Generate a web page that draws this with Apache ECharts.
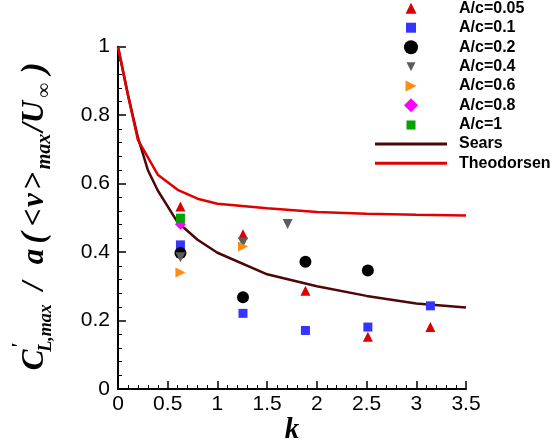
<!DOCTYPE html>
<html>
<head>
<meta charset="utf-8">
<script src="https://cdn.jsdelivr.net/npm/echarts@6/dist/echarts.min.js"></script>
<style>
  html, body { margin: 0; padding: 0; background: #fff; }
  #chart { width: 552px; height: 448px; }
</style>
</head>
<body>
<div id="chart"></div>
<script>
// Reduced frequency k and normalised lift amplitude for each amplitude ratio A/c
const kAc005 = [0.628, 1.257, 1.885, 2.513, 3.142];
const vAc005 = [0.533, 0.452, 0.287, 0.153, 0.181];
const kAc01 = [0.628, 1.257, 1.885, 2.513, 3.142];
const vAc01 = [0.421, 0.221, 0.171, 0.181, 0.243];
const kAc02 = [0.628, 1.257, 1.885, 2.513];
const vAc02 = [0.397, 0.268, 0.372, 0.346];
const kAc04 = [0.628, 1.257, 1.706];
const vAc04 = [0.385, 0.428, 0.482];
const kAc06 = [0.628, 1.257];
const vAc06 = [0.340, 0.416];
const kAc08 = [0.628];
const vAc08 = [0.481];
const kAc1 = [0.628];
const vAc1 = [0.499];

// Analytical references
const kSears = [0, 0.1, 0.2, 0.3, 0.4, 0.6, 0.8, 1.0, 1.5, 2.0, 2.5, 3.0, 3.5];
const vSears = [1.0, 0.86, 0.735, 0.64, 0.58, 0.487, 0.436, 0.398, 0.335, 0.300, 0.272, 0.250, 0.238];
const kTheo = [0, 0.1, 0.2, 0.4, 0.6, 0.8, 1.0, 1.5, 2.0, 2.5, 3.0, 3.5];
const vTheo = [1.0, 0.858, 0.728, 0.626, 0.582, 0.556, 0.541, 0.528, 0.517, 0.512, 0.509, 0.507];

// Legend names and axis tick labels
const seriesNames = ['A/c=0.05', 'A/c=0.1', 'A/c=0.2', 'A/c=0.4', 'A/c=0.6', 'A/c=0.8', 'A/c=1', 'Sears', 'Theodorsen'];
const xTickLabels = ['0', '0.5', '1', '1.5', '2', '2.5', '3', '3.5'];
const yTickLabels = ['0', '0.2', '0.4', '0.6', '0.8', '1'];

const zip = (ks, vs) => ks.map((k, i) => [k, vs[i]]);

// icon overrides the legend shape for the rotated triangles
const markerStyles = [
  { symbol: 'triangle', size: 10, rotate: 0, color: '#dc0000', legendSize: 11 },
  { symbol: 'rect', size: 9, rotate: 0, color: '#3535ff', legendSize: 10 },
  { symbol: 'circle', size: 12, rotate: 0, color: '#000000', legendSize: 14 },
  { symbol: 'triangle', size: 10, rotate: 180, color: '#5c5c5c', legendSize: 9, icon: 'path://M0,0L10,0L5,10Z' },
  { symbol: 'triangle', size: 10, rotate: -90, color: '#ff8a14', legendSize: 11, icon: 'path://M0,0L10,5L0,10Z' },
  { symbol: 'diamond', size: 11, rotate: 0, color: '#ff00ff', legendSize: 14 },
  { symbol: 'rect', size: 9, rotate: 0, color: '#00a400', legendSize: 9 }
];
const scatterData = [
  zip(kAc005, vAc005), zip(kAc01, vAc01), zip(kAc02, vAc02), zip(kAc04, vAc04),
  zip(kAc06, vAc06), zip(kAc08, vAc08), zip(kAc1, vAc1)
];
const curveStyles = [
  { name: 'Sears', color: '#4e0606', width: 2.5, data: zip(kSears, vSears) },
  { name: 'Theodorsen', color: '#e00000', width: 2.5, data: zip(kTheo, vTheo) }
];

const series = [];
// curves first so the markers sit on top of them
curveStyles.forEach(c => {
  series.push({
    name: c.name, type: 'line', data: c.data, symbol: 'none', z: 2,
    lineStyle: { color: c.color, width: c.width }, itemStyle: { color: c.color }
  });
});
markerStyles.forEach((m, i) => {
  series.push({
    name: seriesNames[i], type: 'scatter', data: scatterData[i], z: 3 + i,
    symbol: m.symbol, symbolSize: m.size, symbolRotate: m.rotate,
    itemStyle: { color: m.color, opacity: 1 }
  });
});

// one legend block per row so each icon can have its own size
const rowCenters = [8.3, 27.7, 47.3, 66.7, 86, 105.3, 125, 144, 163.3];
const iconCenterX = 411;
const textStartX = 459;
const legendText = {
  fontFamily: 'Liberation Sans', fontWeight: 'bold', fontSize: 16,
  color: '#000', lineHeight: 16
};
const legends = seriesNames.map((name, i) => {
  if (i < markerStyles.length) {
    const m = markerStyles[i];
    const s = m.legendSize;
    const item = m.icon ? { name: name, icon: m.icon } : name;
    return {
      data: [item], left: iconCenterX - s / 2, top: rowCenters[i] - 8, padding: 0,
      itemWidth: s, itemHeight: s, selectedMode: false,
      textStyle: Object.assign({ padding: [0, 0, 0, textStartX - (iconCenterX + s / 2) - 5] }, legendText)
    };
  }
  const c = curveStyles[i - markerStyles.length];
  return {
    data: [{ name: name, icon: 'rect' }], left: 375, top: rowCenters[i] - 8, padding: 0,
    itemWidth: 72, itemHeight: c.width + 0.5, selectedMode: false,
    textStyle: Object.assign({ padding: [0, 0, 0, textStartX - 447 - 5] }, legendText)
  };
});

// rotated y-axis title, laid out glyph group by glyph group
const serifMain = 'italic bold 31px "Liberation Serif"';
const serifParen = 'italic bold 34px "Liberation Serif"';
const serifSub = 'italic bold 18px "Liberation Serif"';
const serifSub2 = 'italic bold 20px "Liberation Serif"';
const titlePieces = [
  { t: 'C', x: 10, y: 35, f: serifMain },
  { t: "'", x: 24, y: 21, f: 'italic bold 20px "Liberation Serif"' },
  { t: 'L,max', x: 42, y: 46, f: serifSub },
  { t: '/', x: 84, y: 35, f: serifMain },
  { t: 'a', x: 113.5, y: 35, f: serifMain },
  { t: '(', x: 132, y: 35, f: serifParen },
  { t: '<', x: 152.5, y: 35, f: serifMain },
  { t: 'v', x: 170, y: 35, f: serifMain },
  { t: '>', x: 189, y: 35, f: serifMain },
  { t: 'max', x: 218.5, y: 45, f: serifSub2 },
  { t: '/', x: 242.5, y: 35, f: serifMain },
  { t: 'U', x: 258, y: 35, f: serifMain },
  { t: '∞', x: 280, y: 45, f: 'bold 20px "Liberation Serif"' },
  { t: ')', x: 302, y: 35, f: serifParen }
];

const axisCommon = {
  axisLine: { show: true, onZero: false, lineStyle: { color: '#000', width: 2 } },
  axisTick: { show: true, inside: true, length: 8, lineStyle: { color: '#000', width: 1.5 } },
  minorTick: { show: true, splitNumber: 5, length: 4, lineStyle: { color: '#000', width: 1 } },
  splitLine: { show: false },
  minorSplitLine: { show: false }
};

const option = {
  backgroundColor: '#ffffff',
  animation: false,
  grid: { left: 118, right: 86, top: 46.7, bottom: 59 },
  legend: legends,
  xAxis: Object.assign({
    type: 'value', min: 0, max: 3.5, interval: 0.5,
    axisLabel: {
      fontFamily: 'Liberation Sans', fontSize: 21, color: '#000', margin: 5,
      formatter: v => xTickLabels[Math.round(v / 0.5)]
    }
  }, axisCommon),
  yAxis: Object.assign({
    type: 'value', min: 0, max: 1, interval: 0.2,
    axisLabel: {
      fontFamily: 'Liberation Sans', fontSize: 21, color: '#000', margin: 8,
      formatter: v => yTickLabels[Math.round(v / 0.2)]
    }
  }, axisCommon),
  graphic: [
    {
      type: 'group', x: 0, y: 370, rotation: Math.PI / 2,
      children: titlePieces.map(p => ({
        type: 'text', x: p.x, y: p.y,
        style: { text: p.t, font: p.f, fill: '#000', align: 'center', verticalAlign: 'middle' }
      }))
    },
    {
      type: 'text', x: 292, y: 431,
      style: { text: 'k', font: 'italic bold 29px "Liberation Serif"', fill: '#000', align: 'center', verticalAlign: 'middle' }
    }
  ],
  series: series
};

const chart = echarts.init(document.getElementById('chart'), null, { renderer: 'canvas' });
chart.setOption(option);
</script>
</body>
</html>
